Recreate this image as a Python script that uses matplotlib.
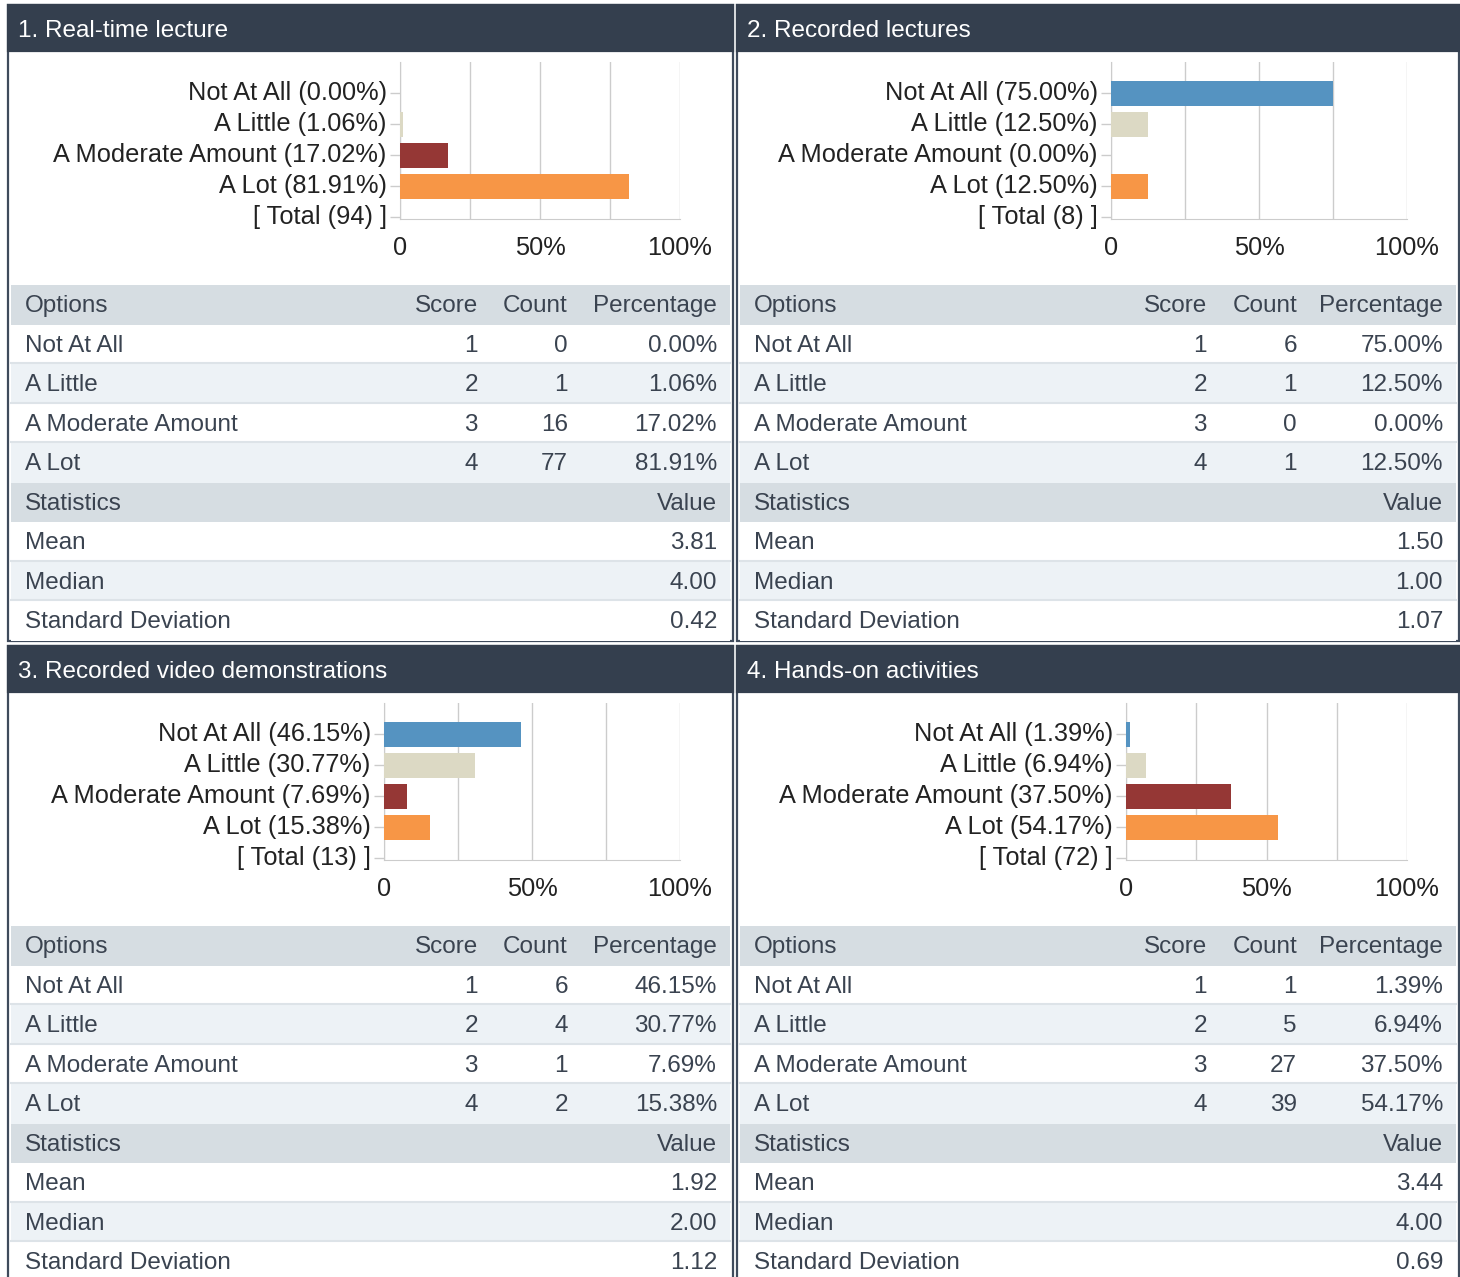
import matplotlib
matplotlib.use('Agg')
import matplotlib.pyplot as plt
import matplotlib.patches as mpatches

plt.rcParams['font.family'] = ['Liberation Sans', 'DejaVu Sans']

# ---- data ----
titles = ['1. Real-time lecture', '2. Recorded lectures',
          '3. Recorded video demonstrations', '4. Hands-on activities']
options = ['Not At All', 'A Little', 'A Moderate Amount', 'A Lot']
scores = [1, 2, 3, 4]

counts_realtime = [0, 1, 16, 77]
counts_recorded = [6, 1, 0, 1]
counts_video    = [6, 4, 1, 2]
counts_handson  = [1, 5, 27, 39]

pct_realtime = [0.00, 1.06, 17.02, 81.91]
pct_recorded = [75.00, 12.50, 0.00, 12.50]
pct_video    = [46.15, 30.77, 7.69, 15.38]
pct_handson  = [1.39, 6.94, 37.50, 54.17]

totals  = [94, 8, 13, 72]
means   = [3.81, 1.50, 1.92, 3.44]
medians = [4.00, 1.00, 2.00, 4.00]
stdevs  = [0.42, 1.07, 1.12, 0.69]

counts_all = [counts_realtime, counts_recorded, counts_video, counts_handson]
pct_all    = [pct_realtime, pct_recorded, pct_video, pct_handson]

bar_colors = ['#5593c1', '#dcd9c4', '#953735', '#f79646']

HEADER   = '#343f4e'
BORDER   = '#3f4b5c'
ROW_GRAY = '#d6dde2'
ROW_LITE = '#edf2f6'
SEP      = '#dde3e8'
TXT      = '#3a4350'
FS       = 17.5   # table / title text
FS_CH    = 18.3   # chart labels

W, H = 1460, 1277
dpi = 100
fig = plt.figure(figsize=(W / dpi, H / dpi), dpi=dpi)
bg = fig.add_axes([0, 0, 1, 1])
bg.set_xlim(0, W); bg.set_ylim(H, 0)
bg.set_axis_off()

# panel boxes (pixel layout)
panel_x = [(8, 733), (737, 1459), (8, 733), (737, 1459)]
panel_y = [5, 5, 646, 646]
axis_lr = [(400, 680), (1111, 1407), (384, 680), (1126, 1407)]
row_h = 39.5


def rect(x, y, w, h, **kw):
    bg.add_patch(mpatches.Rectangle((x, y), w, h, **kw))


for k in range(4):
    x0, x1 = panel_x[k]
    y0 = panel_y[k]
    rect(x0, y0, x1 - x0, 636, facecolor='white', edgecolor=BORDER, lw=1.6, zorder=1)
    rect(x0, y0, x1 - x0, 46, facecolor=HEADER, edgecolor=HEADER, lw=1.6, zorder=2)
    bg.text(x0 + 10, y0 + 26, titles[k], color='white', fontsize=FS,
            va='center', ha='left', zorder=3)

    # ---- table ----
    tx0, tx1 = x0 + 3, x1 - 3
    ty = y0 + 280
    c_opt = x0 + 17
    c_score = x0 + 470
    c_count = x0 + 560
    c_pct = x1 - 16

    rows = [('hdr', ['Options', 'Score', 'Count', 'Percentage'])]
    for i, opt in enumerate(options):
        rows.append(('opt', [opt, str(scores[i]), str(counts_all[k][i]),
                             f'{pct_all[k][i]:.2f}%']))
    rows.append(('hdr2', ['Statistics', 'Value']))
    rows.append(('stat', ['Mean', f'{means[k]:.2f}']))
    rows.append(('stat', ['Median', f'{medians[k]:.2f}']))
    rows.append(('stat', ['Standard Deviation', f'{stdevs[k]:.2f}']))

    alt = 0
    for r, (kind, cells) in enumerate(rows):
        yt = ty + r * row_h
        if kind in ('hdr', 'hdr2'):
            fc = ROW_GRAY
            alt = 0
        else:
            fc = 'white' if alt % 2 == 0 else ROW_LITE
            alt += 1
        rect(tx0, yt, tx1 - tx0, row_h, facecolor=fc, edgecolor='none', zorder=2)
        if kind in ('opt', 'stat') and r not in (4, 8):
            bg.plot([tx0, tx1], [yt + row_h - 1, yt + row_h - 1], color=SEP, lw=1.5, zorder=3)
        yc = yt + row_h / 2 + 1.5
        bg.text(c_opt, yc, cells[0], color=TXT, fontsize=FS, va='center', ha='left', zorder=4)
        if len(cells) == 4:
            bg.text(c_score, yc, cells[1], color=TXT, fontsize=FS, va='center', ha='right', zorder=4)
            bg.text(c_count, yc, cells[2], color=TXT, fontsize=FS, va='center', ha='right', zorder=4)
            bg.text(c_pct, yc, cells[3], color=TXT, fontsize=FS, va='center', ha='right', zorder=4)
        else:
            bg.text(c_pct, yc, cells[1], color=TXT, fontsize=FS, va='center', ha='right', zorder=4)

    # ---- bar chart ----
    xl, xr = axis_lr[k]
    yt_ax, yb_ax = y0 + 57, y0 + 214
    ax = fig.add_axes([xl / W, 1 - yb_ax / H, (xr - xl) / W, (yb_ax - yt_ax) / H])
    ax.patch.set_alpha(0)
    ypos = list(range(len(options)))
    ax.barh(ypos, pct_all[k], height=25 / 31, color=bar_colors, zorder=3)
    ax.set_xlim(0, 100)
    ax.set_ylim(4.06, -1)
    ax.set_xticks([0, 50, 100])
    ax.set_xticklabels(['0', '50%', '100%'])
    ax.set_xticks([25, 75], minor=True)
    ax.grid(axis='x', which='both', color='#cccccc', lw=1, zorder=0)
    ax.set_axisbelow(True)
    ax.set_yticks(ypos + [4])
    ax.set_yticklabels([f'{o} ({p:.2f}%)' for o, p in zip(options, pct_all[k])]
                       + [f'[ Total ({totals[k]}) ]'])
    ax.tick_params(axis='x', which='both', length=0, pad=12, labelsize=FS_CH, colors='#222222')
    ax.tick_params(axis='y', length=7, width=1, color='#cccccc', pad=2.5,
                   labelsize=FS_CH, labelcolor='#222222')
    for lbl in ax.get_yticklabels():
        lbl.set_va('center')
    for s in ('top', 'right'):
        ax.spines[s].set_visible(False)
    ax.spines['left'].set_color('#cccccc')
    ax.spines['bottom'].set_color('#cccccc')

fig.savefig('out.png', dpi=dpi)
